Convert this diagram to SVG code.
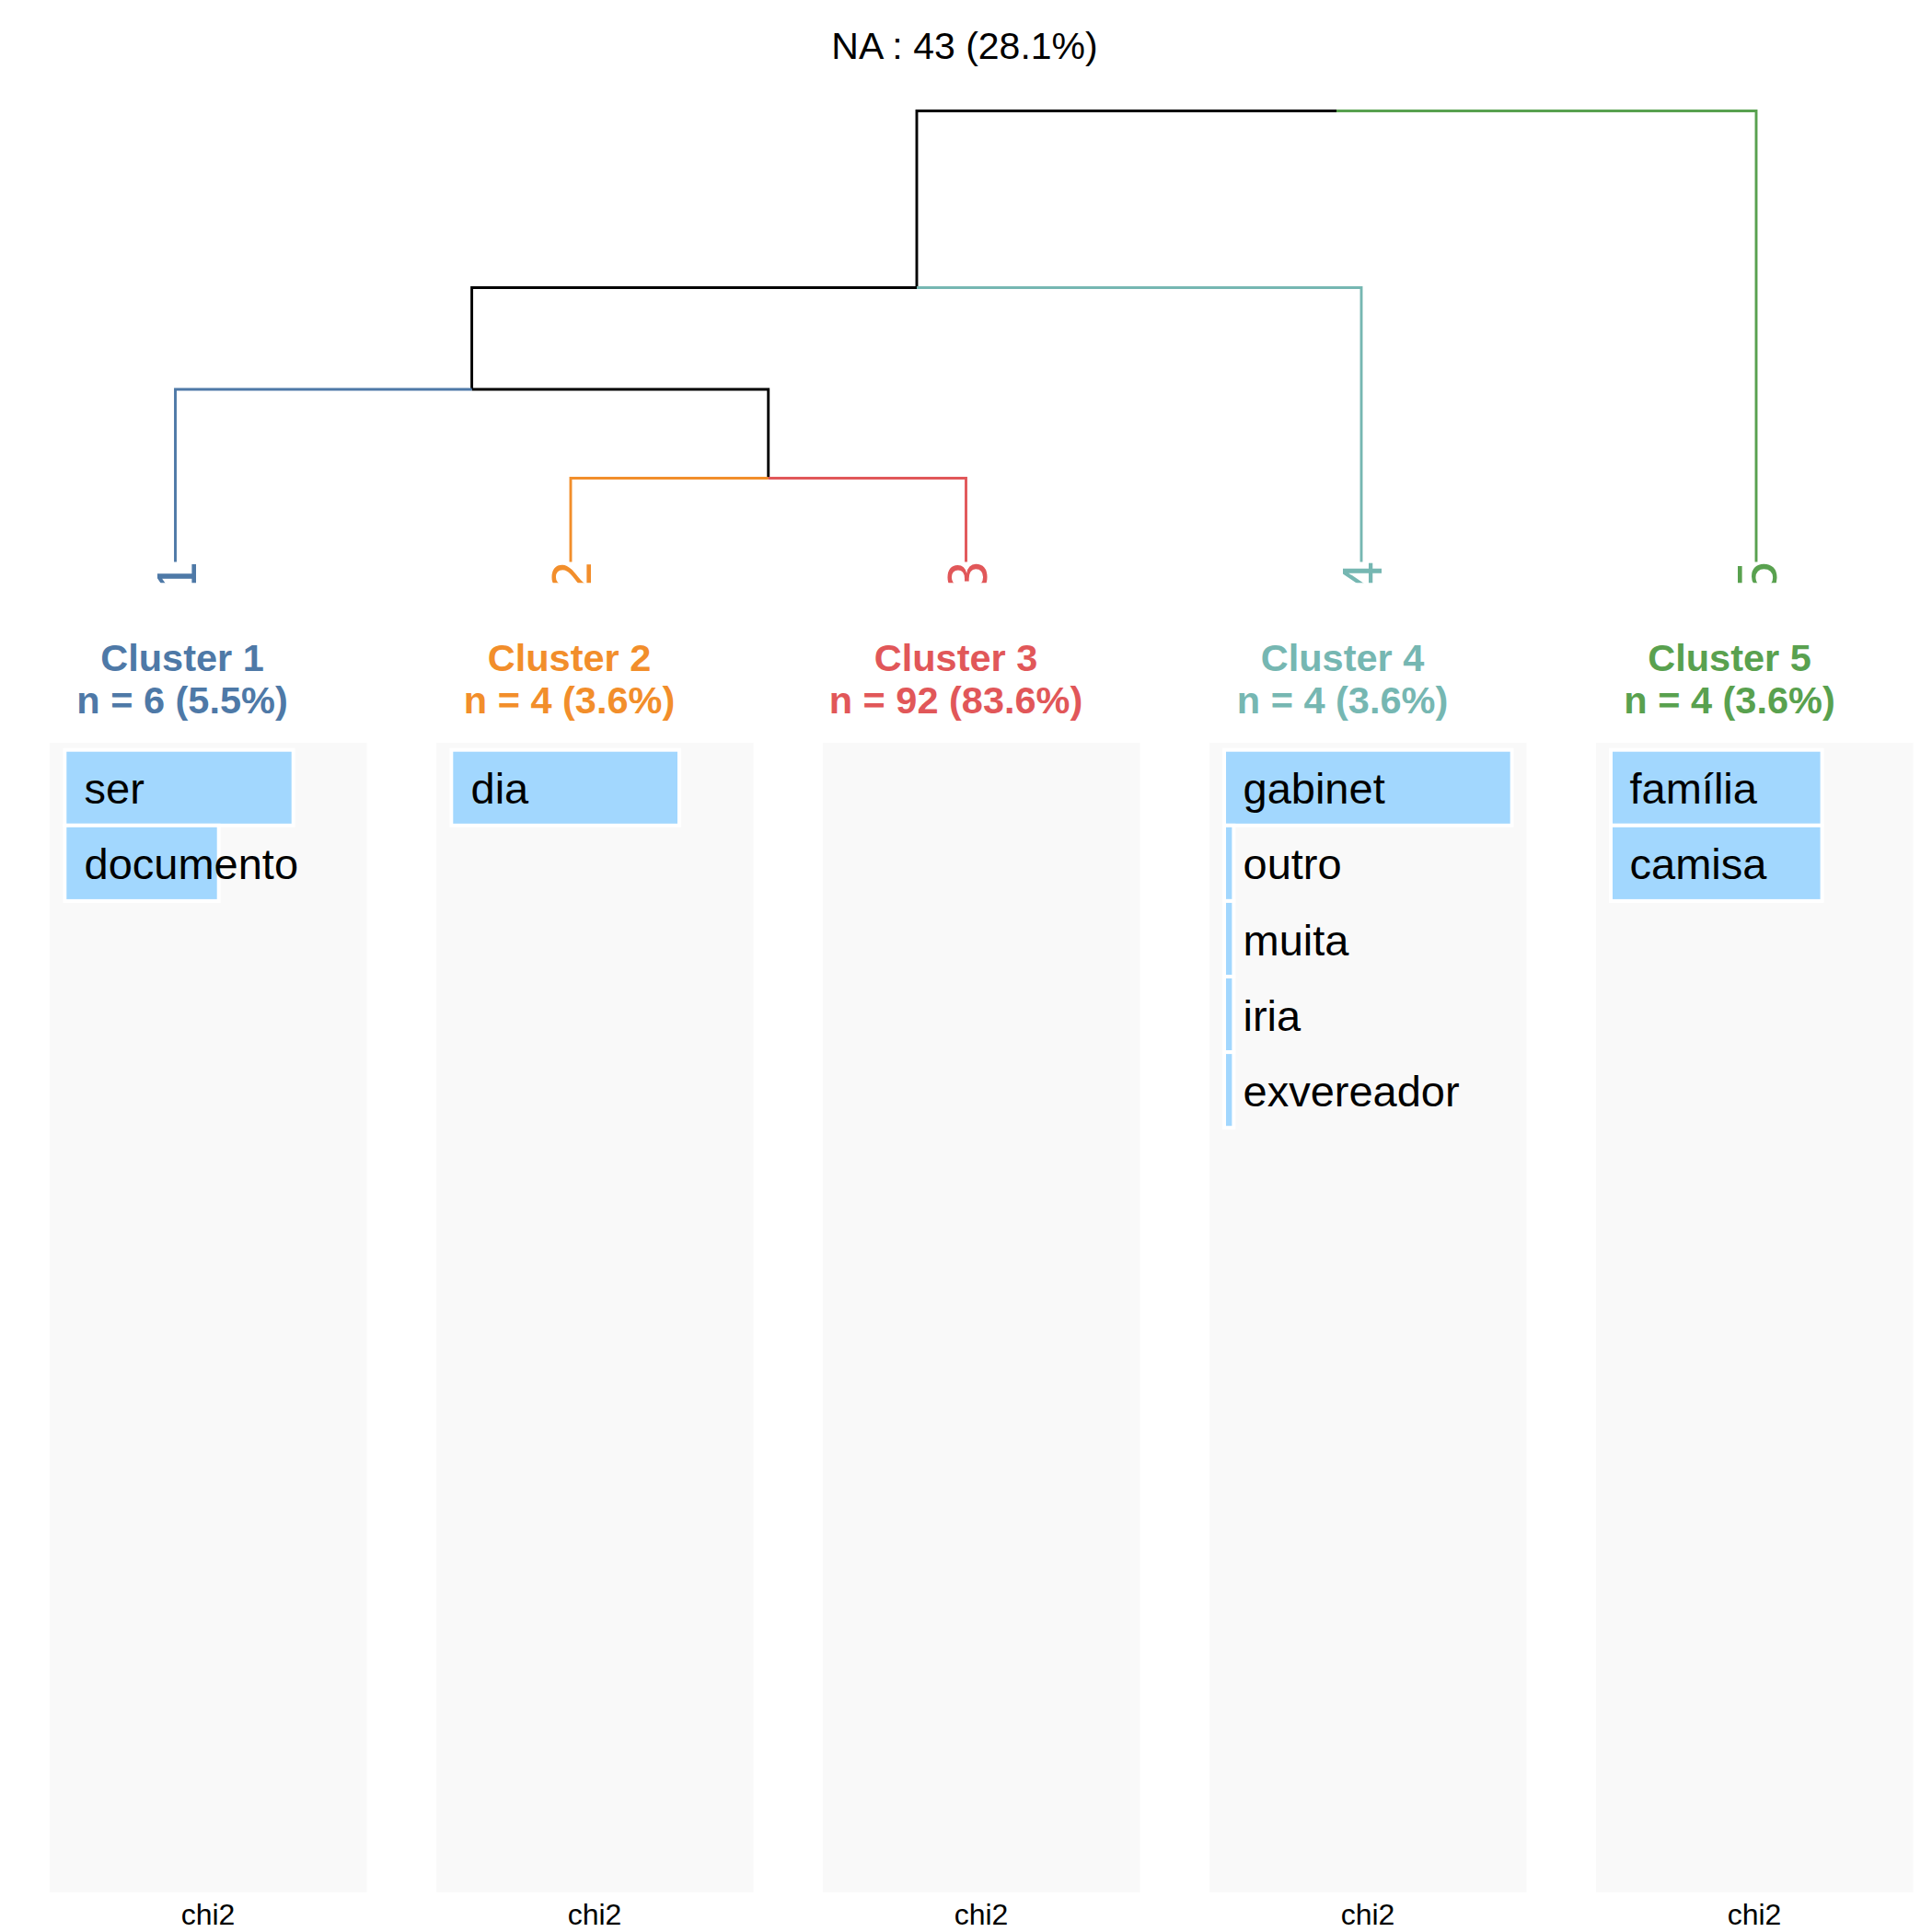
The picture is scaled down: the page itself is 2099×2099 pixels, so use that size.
<svg xmlns="http://www.w3.org/2000/svg" width="2099" height="2099" viewBox="0 0 2099 2099">
  <defs>
    <style>
      text { font-family: "Liberation Sans", Arial, sans-serif; }
      .title { font-size: 41px; fill: #000; text-anchor: middle; }
      .seg { fill: none; stroke-width: 2.9; stroke-linecap: butt; }
      .leaf { font-size: 61px; text-anchor: end; }
      .head { font-size: 41.5px; font-weight: bold; text-anchor: middle; }
      .panel { fill: #F9F9F9; }
      .bar { fill: #A2D7FE; stroke: #FFFFFF; stroke-width: 4; }
      .word { font-size: 47px; fill: #000; }
      .axis { font-size: 32px; fill: #000; text-anchor: middle; }
      .c1 { stroke: #4E79A7; fill: #4E79A7; }
      .c2 { stroke: #F28E2B; fill: #F28E2B; }
      .c3 { stroke: #E15759; fill: #E15759; }
      .c4 { stroke: #76B7B2; fill: #76B7B2; }
      .c5 { stroke: #59A14F; fill: #59A14F; }
      .k { stroke: #000000; }
    </style>
    <clipPath id="dendroClip">
      <rect x="0" y="0" width="2099" height="633.3"/>
    </clipPath>
  </defs>

  <rect x="0" y="0" width="2099" height="2099" fill="#FFFFFF"/>

  <text class="title" x="1048" y="64">NA : 43 (28.1%)</text>

  <!-- dendrogram branches -->
  <g id="connectors">
    <path class="seg k" d="M996 312.5 V120.5 H1452"/>
    <path class="seg k" d="M512.6 423 V312.5 H996"/>
    <path class="seg k" d="M834.75 519.5 V423 H512.6"/>
    <path class="seg c5" style="fill:none" d="M1452 120.5 H1908 V610.5"/>
    <path class="seg c4" style="fill:none" d="M996 312.5 H1479 V610.5"/>
    <path class="seg c1" style="fill:none" d="M512.6 423 H190.5 V610.5"/>
    <path class="seg c2" style="fill:none" d="M834.75 519.5 H620 V610.5"/>
    <path class="seg c3" style="fill:none" d="M834.75 519.5 H1049.5 V610.5"/>
  </g>

  <!-- leaf labels, cut off at the bottom of the tree area -->
  <g id="leaf-labels" clip-path="url(#dendroClip)">
    <text class="leaf c1" style="stroke:none" transform="translate(212.5 610) rotate(-90)">1</text>
    <text class="leaf c2" style="stroke:none" transform="translate(642 610) rotate(-90)">2</text>
    <text class="leaf c3" style="stroke:none" transform="translate(1071.5 610) rotate(-90)">3</text>
    <text class="leaf c4" style="stroke:none" transform="translate(1501 610) rotate(-90)">4</text>
    <text class="leaf c5" style="stroke:none" transform="translate(1930 610) rotate(-90)">5</text>
  </g>

  <!-- cluster 1 -->
  <g id="cluster1">
    <text class="head c1" style="stroke:none" x="198" y="729">Cluster 1</text>
    <text class="head c1" style="stroke:none" x="198" y="775">n = 6 (5.5%)</text>
    <rect class="panel" x="54" y="807" width="344.5" height="1249"/>
    <rect class="bar" x="70.3" y="814.7" width="248.4" height="82.1"/>
    <rect class="bar" x="70.3" y="896.8" width="167.4" height="82.1"/>
    <text class="word" x="91.5" y="873.3">ser</text>
    <text class="word" x="91.5" y="955.4">documento</text>
    <text class="axis" x="226" y="2091">chi2</text>
  </g>

  <!-- cluster 2 -->
  <g id="cluster2">
    <text class="head c2" style="stroke:none" x="618.5" y="729">Cluster 2</text>
    <text class="head c2" style="stroke:none" x="618.5" y="775">n = 4 (3.6%)</text>
    <rect class="panel" x="474" y="807" width="344.5" height="1249"/>
    <rect class="bar" x="490.3" y="814.7" width="247.7" height="82.1"/>
    <text class="word" x="511.5" y="873.3">dia</text>
    <text class="axis" x="646" y="2091">chi2</text>
  </g>

  <!-- cluster 3 -->
  <g id="cluster3">
    <text class="head c3" style="stroke:none" x="1038.5" y="729">Cluster 3</text>
    <text class="head c3" style="stroke:none" x="1038.5" y="775">n = 92 (83.6%)</text>
    <rect class="panel" x="894" y="807" width="344.5" height="1249"/>
    <text class="axis" x="1066" y="2091">chi2</text>
  </g>

  <!-- cluster 4 -->
  <g id="cluster4">
    <text class="head c4" style="stroke:none" x="1458.5" y="729">Cluster 4</text>
    <text class="head c4" style="stroke:none" x="1458.5" y="775">n = 4 (3.6%)</text>
    <rect class="panel" x="1314" y="807" width="344.5" height="1249"/>
    <rect class="bar" x="1330" y="814.7" width="312.7" height="82.1"/>
    <rect class="bar" x="1330" y="896.8" width="10.4" height="82.1"/>
    <rect class="bar" x="1330" y="978.9" width="10.4" height="82.1"/>
    <rect class="bar" x="1330" y="1061" width="10.4" height="82.1"/>
    <rect class="bar" x="1330" y="1143.1" width="10.4" height="82.1"/>
    <text class="word" x="1350.5" y="873.3">gabinet</text>
    <text class="word" x="1350.5" y="955.4">outro</text>
    <text class="word" x="1350.5" y="1037.5">muita</text>
    <text class="word" x="1350.5" y="1119.6">iria</text>
    <text class="word" x="1350.5" y="1201.7">exvereador</text>
    <text class="axis" x="1486" y="2091">chi2</text>
  </g>

  <!-- cluster 5 -->
  <g id="cluster5">
    <text class="head c5" style="stroke:none" x="1879" y="729">Cluster 5</text>
    <text class="head c5" style="stroke:none" x="1879" y="775">n = 4 (3.6%)</text>
    <rect class="panel" x="1734" y="807" width="344.5" height="1249"/>
    <rect class="bar" x="1750" y="814.7" width="229.6" height="82.1"/>
    <rect class="bar" x="1750" y="896.8" width="229.6" height="82.1"/>
    <text class="word" x="1770.5" y="873.3">família</text>
    <text class="word" x="1770.5" y="955.4">camisa</text>
    <text class="axis" x="1906" y="2091">chi2</text>
  </g>
</svg>
